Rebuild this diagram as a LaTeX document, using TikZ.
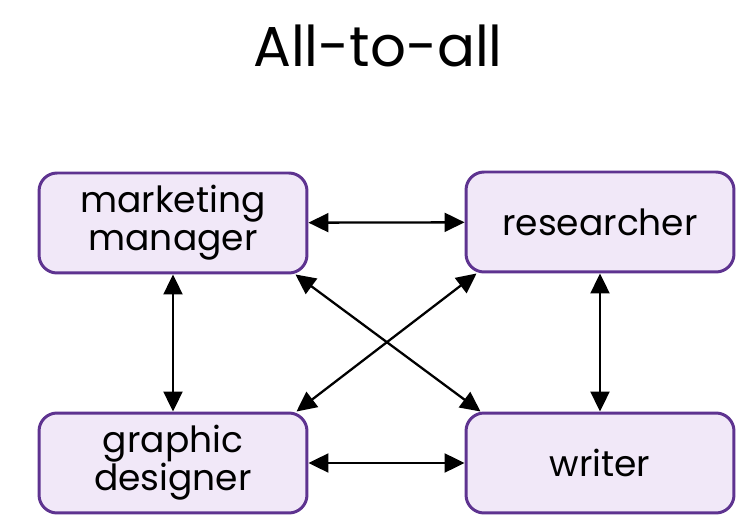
\documentclass[tikz,border=0pt]{standalone}
\usepackage{fontspec}
\setmainfont{Poppins}
\usetikzlibrary{arrows.meta}
\definecolor{roleedge}{HTML}{5E3390}
\definecolor{rolefill}{HTML}{F1E8F8}
\tikzset{
  rolebox/.style={draw=roleedge, fill=rolefill, line width=1.7pt, rounded corners=0.36cm,
    minimum width=5.36cm, minimum height=2cm, align=center,
    font=\fontsize{20.5}{21.6}\selectfont},
  link/.style={line width=1.3pt, draw=black, {Triangle[length=0.4cm,width=0.38cm]}-{Triangle[length=0.4cm,width=0.38cm]}},
  headline/.style={font=\fontsize{32}{36}\selectfont},
}

\begin{document}
\begin{tikzpicture}[x=0.02cm, y=-0.02cm]
\useasboundingbox (0,0) rectangle (750,526);
\node[headline] (title) at (378,46) {All-to-all};
\node[rolebox] (marketing) at (173,223) {marketing\\manager};
\node[rolebox] (researcher) at (600,222) {researcher};
\node[rolebox] (graphic) at (173,463) {graphic\\designer};
\node[rolebox] (writer) at (600,463) {writer};
\draw[link] (marketing) -- (researcher);
\draw[link] (graphic) -- (writer);
\draw[link] (marketing) -- (graphic);
\draw[link] (researcher) -- (writer);
\draw[link] ([xshift=-0.26cm]marketing.south east) -- ([xshift=0.32cm]writer.north west);
\draw[link] ([xshift=-0.24cm]graphic.north east) -- ([xshift=0.24cm]researcher.south west);
\end{tikzpicture}
\end{document}
